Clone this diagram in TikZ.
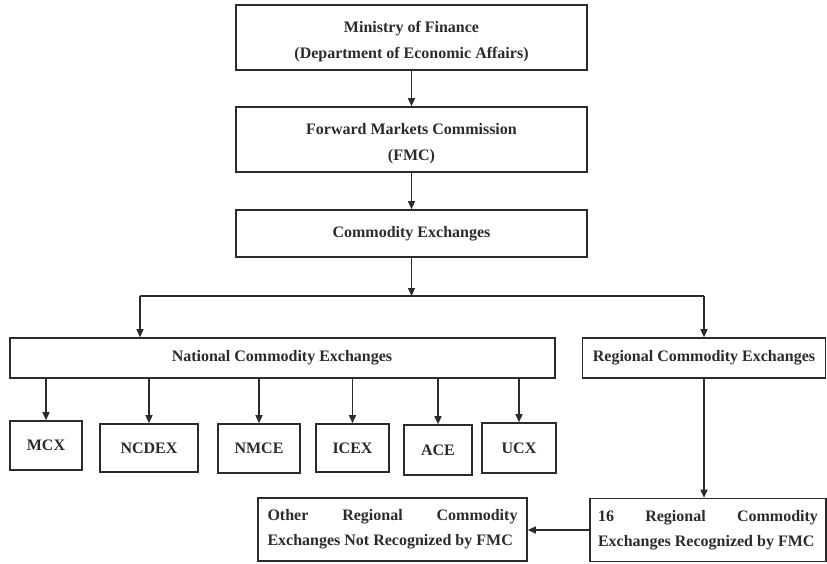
\documentclass[tikz,border=0pt]{standalone}
\usepackage{fontspec}
\setmainfont{Liberation Serif}
\usetikzlibrary{arrows.meta}
\definecolor{ink}{HTML}{2B2B2B}
\newcommand{\upstrut}{\rule{0pt}{19pt}}
\tikzset{
  box/.style={draw=ink, line width=1.6pt, text=ink, inner sep=2pt, align=center, font=\bfseries\fontsize{16}{26}\selectfont},
  arr/.style={draw=ink, line width=1.4pt, -{Triangle[length=8pt,width=7pt]}},
  ln/.style={draw=ink, line width=1.4pt},
}
\begin{document}
\begin{tikzpicture}[x=1pt,y=-1pt]
\useasboundingbox (0,0) rectangle (827,563);
\node[box, minimum width=351pt, minimum height=65pt] (mof) at (411.5,37.5) {\upstrut Ministry of Finance\\(Department of Economic Affairs)};
\node[box, minimum width=351pt, minimum height=65pt] (fmc) at (411.5,139.5) {\upstrut Forward Markets Commission\\(FMC)};
\node[box, minimum width=351pt, minimum height=47pt] (ce) at (411.5,233.5) {Commodity Exchanges};
\node[box, minimum width=545pt, minimum height=40pt] (nat) at (282.5,358) {};
\node[text=ink, font=\bfseries\fontsize{16}{19}\selectfont] (natt) at (282,358) {National Commodity Exchanges};
\node[box, minimum width=243pt, minimum height=40pt] (reg) at (704,358) {Regional Commodity Exchanges};
\node[box, minimum width=72pt, minimum height=49pt] (mcx) at (46,445.5) {MCX};
\node[box, minimum width=98pt, minimum height=48pt] (ncdex) at (149,448) {NCDEX};
\node[box, minimum width=82pt, minimum height=49pt] (nmce) at (259,448.5) {NMCE};
\node[box, minimum width=73pt, minimum height=48pt] (icex) at (352.5,448) {ICEX};
\node[box, minimum width=68pt, minimum height=50pt] (ace) at (438,450) {ACE};
\node[box, minimum width=74pt, minimum height=50pt] (ucx) at (519,448) {UCX};
\node[box, minimum width=236pt, minimum height=63pt, text width=220pt, align=justify, font=\bfseries\fontsize{16}{25}\selectfont] (r16) at (708,530) {16\hfill Regional\hfill Commodity\\Exchanges Recognized by FMC};
\node[box, minimum width=269pt, minimum height=63pt, text width=250pt, align=justify, font=\bfseries\fontsize{16}{25}\selectfont] (oth) at (392.5,529.5) {Other\hfill Regional\hfill Commodity\\Exchanges Not Recognized by FMC};
\coordinate (bl) at (140,296);
\coordinate (br) at (704,296);
\coordinate (split) at (ce.south |- bl);
\draw[arr] (mof) -- (fmc);
\draw[arr] (fmc) -- (ce);
\draw[arr] (ce) -- (split);
\draw[ln] (bl) -- (br);
\draw[arr] (bl) -- (bl |- nat.north);
\draw[arr] (br) -- (reg.north);
\foreach \c in {mcx,ncdex,nmce,icex,ace,ucx}
  \draw[arr] (\c.north |- nat.south) -- (\c.north);
\draw[arr] (reg.south) -- (reg.south |- r16.north);
\draw[arr] (r16.west) -- (r16.west -| oth.east);
\end{tikzpicture}
\end{document}
